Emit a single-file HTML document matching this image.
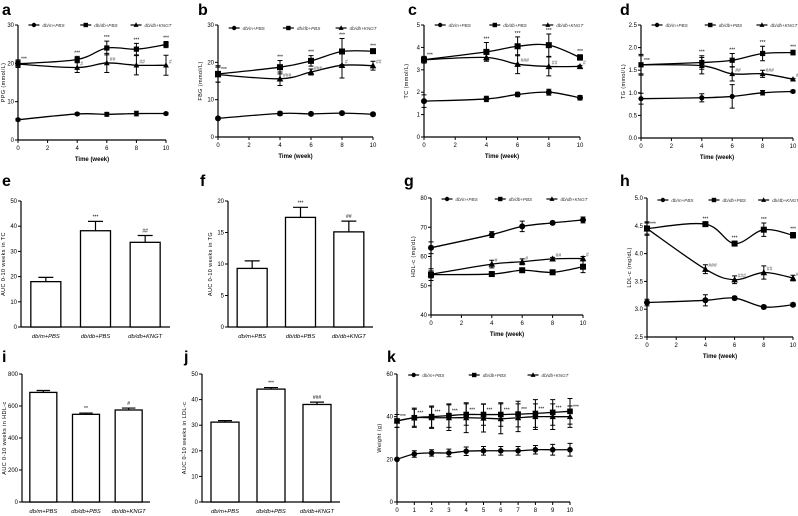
<!DOCTYPE html>
<html><head><meta charset="utf-8"><style>
html,body{margin:0;padding:0;background:#fff}
svg{display:block;font-family:"Liberation Sans",sans-serif}
</style></head><body>
<svg id="fig" width="798" height="516" viewBox="0 0 798 516"></svg>
<script>
const weeks=[0,4,6,8,10];
const weeksK=[0,1,2,3,4,5,6,7,8,9,10];
const groups=["db/m+PBS","db/db+PBS","db/db+KNGT"];
// a PPG
const aDbm=[5.3,6.8,6.7,6.9,6.9], aDbmErr=[0.3,0.3,0.5,0.6,0.3];
const aDbdb=[19.9,21,24,23.7,24.9], aDbdbErr=[1,0.8,1.8,1.5,0.8];
const aKngt=[19.8,18.9,20.1,19.5,19.5], aKngtErr=[0.8,1.3,2.5,2.5,2.6];
// b FBG
const bDbm=[5,6.3,6.2,6.4,6.1], bDbmErr=[0.3,0.5,0.3,0.4,0.4];
const bDbdb=[16.9,18.7,20.4,22.9,23], bDbdbErr=[2.2,1.8,1.4,3.5,0.5];
const bKngt=[16.7,15.6,17.4,19.2,19.1], bKngtErr=[2,1.8,0.8,3.4,1.2];
// c TC
const cDbm=[1.6,1.7,1.9,2.0,1.75], cDbmErr=[0.28,0.12,0.1,0.13,0.1];
const cDbdb=[3.45,3.8,4.05,4.1,3.55], cDbdbErr=[0.15,0.42,0.42,0.5,0.12];
const cKngt=[3.45,3.55,3.25,3.15,3.15], cKngtErr=[0.1,0.15,0.42,0.42,0.05];
// d TG
const dDbm=[0.87,0.89,0.92,1.0,1.03], dDbmErr=[0.12,0.09,0.26,0.05,0.03];
const dDbdb=[1.62,1.67,1.72,1.87,1.89], dDbdbErr=[0.23,0.15,0.15,0.16,0.05];
const dKngt=[1.62,1.6,1.42,1.42,1.3], dKngtErr=[0.2,0.18,0.16,0.08,0.02];
// g HDL-c
const gDbm=[63,67.5,70.3,71.5,72.5], gDbmErr=[2,1,1.8,0.5,1];
const gDbdb=[53.8,54,55.3,54.6,56.5], gDbdbErr=[2,0.5,0.6,0.6,2];
const gKngt=[53.9,57.4,58.2,59.2,59.3], gKngtErr=[1.2,1.3,1,0.5,0.7];
// h LDL-c
const hDbm=[3.12,3.16,3.2,3.04,3.08], hDbmErr=[0.06,0.1,0.03,0.03,0.03];
const hDbdb=[4.45,4.53,4.18,4.43,4.33], hDbdbErr=[0.12,0.03,0.04,0.12,0.05];
const hKngt=[4.45,3.72,3.53,3.66,3.56], hKngtErr=[0.1,0.08,0.07,0.12,0.05];
// k Weight
const kDbm=[20,22.5,23,23,23.8,24,24,24,24.5,24.5,24.5], kDbmErr=[0.5,1.5,1.5,1.8,2,2,2,2,2,2.5,3];
const kDbdb=[38,39.5,40,40.5,41,41,41,41.2,41.5,42,42.5], kDbdbErr=[3,4.5,5,5.5,5,5,5.5,6,6.5,6,6];
const kKngt=[38,39.5,39.5,39.5,39.5,39.3,39,39.5,40,40,40], kKngtErr=[3,4,5,6,7,6.5,7,6.5,6,6,5];
// bars
const eVals=[18,38.2,33.6], eErr=[1.7,3.7,2.7], eNotes=["","***","##"];
const fVals=[9.3,17.4,15.1], fErr=[1.2,1.6,1.7], fNotes=["","***","##"];
const iVals=[685,548,575], iErr=[12,8,12], iNotes=["","**","#"];
const jVals=[31.2,44.1,38.1], jErr=[0.6,0.6,0.9], jNotes=["","***","###"];
// annotations
const aNotes1=["***","***","***","***","***"], aNotes2=["","#","##","##","#"];
const bNotes1=["***","***","***","***","***"], bNotes2=["","###","###","#","##"];
const cNotes1=["***","***","***","***","***"], cNotes2=["","","###","##","#"];
const dNotes1=["***","***","***","***","***"], dNotes2=["","","##","###","###"];
const gNotes2=["","#","#","##","#"];
const hNotes1=["***","***","***","***","***"], hNotes2=["","###","###","##","###"];
const kNotes1=["***","***","***","***","***","***","***","***","***","***","***"];

const NS="http://www.w3.org/2000/svg";
const svg=document.getElementById('fig');
function mk(tag,attrs,parent){const e=document.createElementNS(NS,tag);for(const k in attrs)e.setAttribute(k,attrs[k]);(parent||svg).appendChild(e);return e;}
function txt(s,x,y,size,parent,extra){const e=mk('text',Object.assign({x:x,y:y,'font-size':size,fill:'#000'},extra||{}),parent);e.textContent=s;return e;}
function smooth(pts){let d=`M${pts[0][0]},${pts[0][1]}`;for(let i=0;i<pts.length-1;i++){const p0=pts[i-1]||pts[i],p1=pts[i],p2=pts[i+1],p3=pts[i+2]||p2;const c1=[p1[0]+(p2[0]-p0[0])/6,p1[1]+(p2[1]-p0[1])/6],c2=[p2[0]-(p3[0]-p1[0])/6,p2[1]-(p3[1]-p1[1])/6];d+=`C${c1[0]},${c1[1]} ${c2[0]},${c2[1]} ${p2[0]},${p2[1]}`;}return d;}
function marker(type,x,y,g,s){s=s||2.6;
 if(type==0)return mk('circle',{cx:x,cy:y,r:s,fill:'#000'},g);
 if(type==1)return mk('rect',{x:x-s,y:y-s,width:2*s,height:2*s,fill:'#000'},g);
 return mk('polygon',{points:`${x},${y-s-0.5} ${x-s-0.3},${y+s-0.3} ${x+s+0.3},${y+s-0.3}`,fill:'#000'},g);}
function yAxis(g,ax,yT,yB,ticks,labels,ymin,ymax,ylabel){
 const sy=v=>yB-(v-ymin)/(ymax-ymin)*(yB-yT);
 const l=mk('line',{x1:ax,y1:yT,x2:ax,y2:yB,stroke:'#000','stroke-width':1.2},g);
 
 ticks.forEach((t,i)=>{mk('line',{x1:ax-3,y1:sy(t),x2:ax,y2:sy(t),stroke:'#000','stroke-width':1},g);
  const tl=txt(labels[i],ax-4,sy(t)+2,6,g,{'text-anchor':'end'});
  });
 const yt=txt(ylabel,0,0,5.5,g,{'text-anchor':'middle',transform:`translate(${Math.max(5,ax-16)},${(yT+yB)/2}) rotate(-90)`,'letter-spacing':'0.4'});
 
 return sy;}
function letter(s,x,y){const t=txt(s,x,y,16,svg,{'font-weight':'bold'});}

function lineChart(P){
 const g=mk('g',{});
 letter(P.letter,P.lx,P.ly);
 const sy=yAxis(g,P.x0,P.yT,P.yB,P.yticks,P.ylabels,P.ymin,P.ymax,P.ytitle);
 const sx=v=>P.x0+(v-P.xmin)/(P.xmax-P.xmin)*(P.x1-P.x0);
 const xl=mk('line',{x1:P.x0,y1:P.yB,x2:P.x1,y2:P.yB,stroke:'#000','stroke-width':1.2},g);
 
 P.xticks.forEach(t=>{mk('line',{x1:sx(t),y1:P.yB,x2:sx(t),y2:P.yB+3,stroke:'#000','stroke-width':1},g);
  const tl=txt(String(t),sx(t),P.yB+10,6,g,{'text-anchor':'middle'});
  });
 const xt=txt('Time (week)',(P.x0+P.x1)/2,P.yB+21,6,g,{'text-anchor':'middle','font-weight':'bold'});
 
 P.series.forEach((s,si)=>{
  const sg=mk('g',{},g);
  const pts=s.v.map((v,i)=>[sx(P.xs[i]),sy(v)]);
  const ln=mk('path',{d:smooth(pts),fill:'none',stroke:'#000','stroke-width':1.3},sg);
  
  s.v.forEach((v,i)=>{const x=sx(P.xs[i]);
   const eb=mk('path',{d:`M${x},${sy(v-s.e[i])}V${sy(v+s.e[i])}M${x-2.5},${sy(v-s.e[i])}H${x+2.5}M${x-2.5},${sy(v+s.e[i])}H${x+2.5}`,stroke:'#000','stroke-width':1,fill:'none'},sg);
   
   const m=marker(si,x,sy(v),sg,P.ms);});
 });
 // legend
 const W=P.x1-P.x0;
 groups.forEach((name,i)=>{const lx=P.x0+6+W*P.legFrac[i],ly=P.legY;
  const lg=mk('g',{},g);
  mk('line',{x1:lx,y1:ly,x2:lx+11,y2:ly,stroke:'#000','stroke-width':1.2},lg);marker(i,lx+5.5,ly,lg,2.2);
  txt(name,lx+14,ly+1.8,4.6,lg,{'font-style':'italic','fill':'#333'});});
 // notes
 if(P.n1)P.n1.forEach((s,i)=>{const v=P.series[1].v[i]+P.series[1].e[i];const x=sx(P.xs[i]);
  const first=(i==0)||P.side;
  const t=txt(s,first?x+3:x,first?sy(P.series[1].v[i])-3:sy(v)-2,5,g,{'text-anchor':first?'start':'middle'});
  });
 if(P.n2)P.n2.forEach((s,i)=>{if(!s)return;const x=sx(P.xs[i])+3;const t=txt(s,x,sy(P.series[2].v[i])-2,5,g,{fill:'#555'});
  });
}

function barChart(P){
 const g=mk('g',{});
 letter(P.letter,P.lx,P.ly);
 const sy=yAxis(g,P.x0,P.yT,P.yB,P.yticks,P.ylabels,P.ymin,P.ymax,P.ytitle);
 const xl=mk('line',{x1:P.x0,y1:P.yB,x2:P.x1,y2:P.yB,stroke:'#000','stroke-width':1.2},g);
 
 const step=(P.x1-P.x0)/3;
 P.vals.forEach((v,i)=>{const cx=P.x0+step*(i+0.5);
  const eb=mk('path',{d:`M${cx},${sy(v)}V${sy(v+P.err[i])}M${cx-P.bw/4},${sy(v+P.err[i])}H${cx+P.bw/4}`,stroke:'#000','stroke-width':1.2,fill:'none'},g);
  
  const b=mk('rect',{x:cx-P.bw/2,y:sy(v),width:P.bw,height:P.yB-sy(v),fill:'#fff',stroke:'#000','stroke-width':1.3},g);
  
  const t=txt(P.notes[i],cx,sy(v+P.err[i])-3,5,g,{'text-anchor':'middle'});
  
  const c=txt(groups[i],cx,P.yB+11,5.8,g,{'text-anchor':'middle','font-style':'italic'});
  });
}

const leg=[0.03,0.38,0.72];
lineChart({letter:'a',lx:2,ly:15,x0:18,x1:166,yT:25,yB:140,ymin:0,ymax:30,yticks:[0,10,20,30],ylabels:['0','10','20','30'],ytitle:'PPG (mmol/L)',xmin:0,xmax:10,xticks:[0,2,4,6,8,10],xs:weeks,legY:25,legFrac:leg,
 series:[{v:aDbm,e:aDbmErr},{v:aDbdb,e:aDbdbErr},{v:aKngt,e:aKngtErr}],n1:aNotes1,n2:aNotes2});
lineChart({letter:'b',lx:198,ly:15,x0:218,x1:373,yT:25,yB:137,ymin:0,ymax:30,yticks:[0,10,20,30],ylabels:['0','10','20','30'],ytitle:'FBG (mmol/L)',xmin:0,xmax:10,xticks:[0,2,4,6,8,10],xs:weeks,legY:28,legFrac:leg,ms:3,
 series:[{v:bDbm,e:bDbmErr},{v:bDbdb,e:bDbdbErr},{v:bKngt,e:bKngtErr}],n1:bNotes1,n2:bNotes2});
lineChart({letter:'c',lx:408,ly:15,x0:424,x1:580,yT:25,yB:137,ymin:0,ymax:5,yticks:[0,1,2,3,4,5],ylabels:['0','1','2','3','4','5'],ytitle:'TC (mmol/L)',xmin:0,xmax:10,xticks:[0,2,4,6,8,10],xs:weeks,legY:25,legFrac:leg,ms:3,
 series:[{v:cDbm,e:cDbmErr},{v:cDbdb,e:cDbdbErr},{v:cKngt,e:cKngtErr}],n1:cNotes1,n2:cNotes2});
lineChart({letter:'d',lx:620,ly:15,x0:641,x1:793,yT:25,yB:138,ymin:0,ymax:2.5,yticks:[0,0.5,1,1.5,2,2.5],ylabels:['0.0','0.5','1.0','1.5','2.0','2.5'],ytitle:'TG (mmol/L)',xmin:0,xmax:10,xticks:[0,2,4,6,8,10],xs:weeks,legY:25,legFrac:leg,ms:2.6,
 series:[{v:dDbm,e:dDbmErr},{v:dDbdb,e:dDbdbErr},{v:dKngt,e:dKngtErr}],n1:dNotes1,n2:dNotes2});
barChart({letter:'e',lx:2,ly:186,x0:21,x1:170,yT:201,yB:327,ymin:0,ymax:50,yticks:[0,10,20,30,40,50],ylabels:['0','10','20','30','40','50'],ytitle:'AUC 0-10 weeks in TC',bw:30,vals:eVals,err:eErr,notes:eNotes});
barChart({letter:'f',lx:200,ly:186,x0:228,x1:373,yT:201,yB:327,ymin:0,ymax:20,yticks:[0,5,10,15,20],ylabels:['0','5','10','15','20'],ytitle:'AUC 0-10 weeks in TG',bw:30,vals:fVals,err:fErr,notes:fNotes});
lineChart({letter:'g',lx:404,ly:186,x0:431,x1:583,yT:198,yB:315,ymin:40,ymax:80,yticks:[40,50,60,70,80],ylabels:['40','50','60','70','80'],ytitle:'HDL-c (mg/dL)',xmin:0,xmax:10,xticks:[0,2,4,6,8,10],xs:weeks,legY:199,legFrac:leg,ms:3,
 series:[{v:gDbm,e:gDbmErr},{v:gDbdb,e:gDbdbErr},{v:gKngt,e:gKngtErr}],n1:null,n2:gNotes2});
lineChart({letter:'h',lx:620,ly:186,x0:647,x1:793,yT:198,yB:337,ymin:2.5,ymax:5,yticks:[2.5,3,3.5,4,4.5,5],ylabels:['2.5','3.0','3.5','4.0','4.5','5.0'],ytitle:'LDL-c (mg/dL)',xmin:0,xmax:10,xticks:[0,2,4,6,8,10],xs:weeks,legY:200,legFrac:leg,ms:3,
 series:[{v:hDbm,e:hDbmErr},{v:hDbdb,e:hDbdbErr},{v:hKngt,e:hKngtErr}],n1:hNotes1,n2:hNotes2});
barChart({letter:'i',lx:2,ly:362,x0:22,x1:150,yT:374,yB:502,ymin:0,ymax:800,yticks:[0,200,400,600,800],ylabels:['0','200','400','600','800'],ytitle:'AUC 0-10 weeks in HDL-c',bw:27,vals:iVals,err:iErr,notes:iNotes});
barChart({letter:'j',lx:184,ly:362,x0:202,x1:340,yT:374,yB:502,ymin:0,ymax:50,yticks:[0,10,20,30,40,50],ylabels:['0','10','20','30','40','50'],ytitle:'AUC 0-10 weeks in LDL-c',bw:28,vals:jVals,err:jErr,notes:jNotes});
lineChart({letter:'k',lx:387,ly:362,x0:397,x1:570,yT:374,yB:502,ymin:0,ymax:60,yticks:[0,20,40,60],ylabels:['0','20','40','60'],ytitle:'Weight (g)',xmin:0,xmax:10,xticks:weeksK,xs:weeksK,legY:375,legFrac:leg,ms:2.8,side:true,
 series:[{v:kDbm,e:kDbmErr},{v:kDbdb,e:kDbdbErr},{v:kKngt,e:kKngtErr}],n1:kNotes1,n2:null});
</script>
</body></html>
